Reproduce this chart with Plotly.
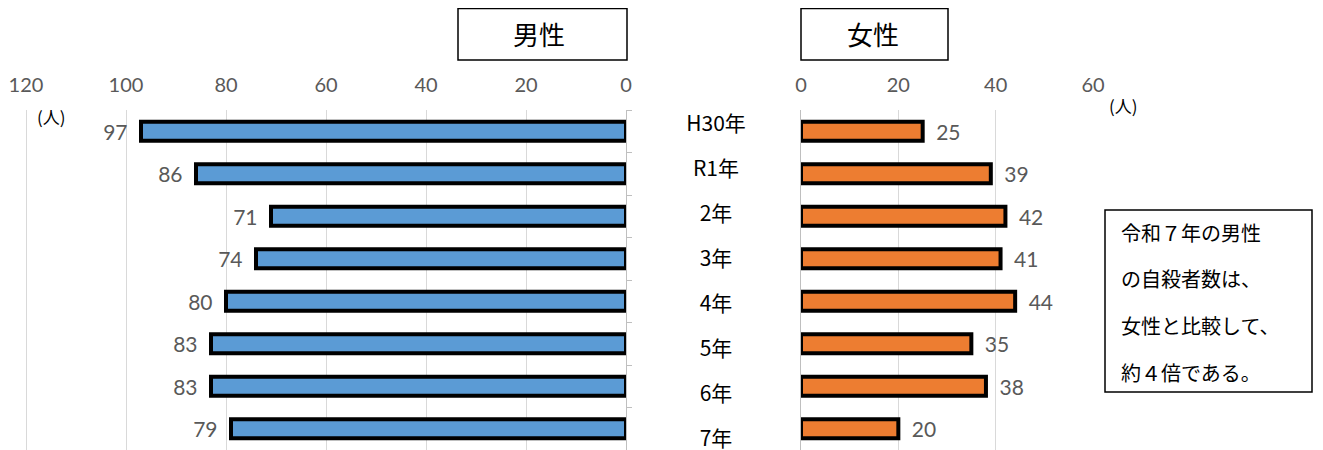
import plotly.graph_objects as go

# The page body adds an 8px margin, so the figure is drawn 8px right and down.
OX, OY = 8, 8
W, H = 1323 - OX, 450 - OY

years = ["H30年", "R1年", "2年", "3年", "4年", "5年", "6年", "7年"]
male = [97, 86, 71, 74, 80, 83, 83, 79]
female = [25, 39, 42, 41, 44, 35, 38, 20]
male_ticks = [0, 20, 40, 60, 80, 100, 120]
female_ticks = [0, 20, 40, 60]
note_lines = ["令和７年の男性", "の自殺者数は、", "女性と比較して、", "約４倍である。"]

def px(x):
    return (x - OX) / W

def py(y):
    return 1 - (y - OY) / H

NUM_FONT = "Lato, 'Noto Sans CJK JP', sans-serif"
JP_FONT = "'Noto Sans CJK JP', 'Noto Sans', sans-serif"
GRID = "#D9D9D9"
TICKC = "#595959"

fig = go.Figure()

fig.add_trace(go.Bar(
    y=years, x=male, orientation="h",
    marker=dict(color="#5B9BD5", line=dict(color="black", width=4)),
    width=0.45,
    text=[f"{v}\u2002" for v in male], textposition="outside",
    constraintext="none",
    textfont=dict(family=NUM_FONT, size=21, color=TICKC),
    cliponaxis=False,
    xaxis="x", yaxis="y", showlegend=False,
))
fig.add_trace(go.Bar(
    y=years, x=female, orientation="h",
    marker=dict(color="#ED7D31", line=dict(color="black", width=4)),
    width=0.45,
    text=[f"\u2002{v}" for v in female], textposition="outside",
    constraintext="none",
    textfont=dict(family=NUM_FONT, size=21, color=TICKC),
    cliponaxis=False,
    xaxis="x2", yaxis="y2", showlegend=False,
))
# category labels in the middle
fig.add_trace(go.Scatter(
    x=[0] * len(years), y=years, mode="text", text=years,
    textfont=dict(family=JP_FONT, size=21, color="black"),
    xaxis="x3", yaxis="y3", showlegend=False, hoverinfo="skip",
    cliponaxis=False,
))

ydom = [0, py(110)]

fig.update_layout(
    width=W, height=H,
    margin=dict(l=0, r=0, t=0, b=0, autoexpand=False),
    paper_bgcolor="white", plot_bgcolor="white",
    xaxis=dict(
        domain=[px(23), px(626)], range=[120.6, 0], side="top",
        tickvals=male_ticks, showgrid=True, gridcolor=GRID, gridwidth=1,
        zeroline=False, showline=False, ticks="",
        tickfont=dict(family=NUM_FONT, size=20, color=TICKC),
        ticklabelstandoff=13, ticklabeloverflow="allow",
        anchor="y", automargin=False,
    ),
    yaxis=dict(
        domain=ydom, autorange="reversed", side="right", anchor="x",
        showticklabels=False, showgrid=False, zeroline=False,
        showline=True, linecolor="#BFBFBF", linewidth=1,
        ticks="outside", tickson="boundaries", ticklen=5, tickcolor="#BFBFBF",
        automargin=False,
    ),
    xaxis2=dict(
        domain=[px(801), px(1094)], range=[0, 60.2], side="top",
        tickvals=female_ticks, showgrid=True, gridcolor=GRID, gridwidth=1,
        zeroline=False, showline=False, ticks="",
        tickfont=dict(family=NUM_FONT, size=20, color=TICKC),
        ticklabelstandoff=13, ticklabeloverflow="allow",
        anchor="y2", automargin=False,
    ),
    yaxis2=dict(
        domain=ydom, autorange="reversed", anchor="x2",
        showticklabels=False, showgrid=False, zeroline=False,
        showline=True, linecolor="#BFBFBF", linewidth=1, ticks="",
        automargin=False,
    ),
    xaxis3=dict(domain=[px(666), px(766)], range=[-1, 1], visible=False, anchor="y3",
                automargin=False),
    yaxis3=dict(domain=ydom, range=[7.2, -0.356], visible=False, anchor="x3",
                type="category", automargin=False),
)

shapes = [
    dict(type="rect", xref="paper", yref="paper",
         x0=px(458), x1=px(627), y0=py(8.5), y1=py(60),
         line=dict(color="black", width=1.5), fillcolor="white"),
    dict(type="rect", xref="paper", yref="paper",
         x0=px(801), x1=px(948), y0=py(8.5), y1=py(60),
         line=dict(color="black", width=1.5), fillcolor="white"),
    dict(type="rect", xref="paper", yref="paper",
         x0=px(1105), x1=px(1312), y0=py(210), y1=py(392),
         line=dict(color="black", width=1.5), fillcolor="white"),
]
fig.update_layout(shapes=shapes)

annotations = []
for text, cx in [("男性", 539), ("女性", 873)]:
    annotations.append(dict(text=text, x=px(cx), y=py(33), xref="paper", yref="paper",
                            showarrow=False, xanchor="center", yanchor="middle",
                            font=dict(family=JP_FONT, size=26, color="black")))
annotations.append(dict(text="(人)", x=px(51), y=py(116), xref="paper", yref="paper",
                        showarrow=False, xanchor="center", yanchor="middle",
                        font=dict(family=JP_FONT, size=17, color="black")))
annotations.append(dict(text="(人)", x=px(1123), y=py(105), xref="paper", yref="paper",
                        showarrow=False, xanchor="center", yanchor="middle",
                        font=dict(family=JP_FONT, size=17, color="black")))
for i, line in enumerate(note_lines):
    annotations.append(dict(text=line, x=px(1119), y=py(232 + 46.7 * i), xref="paper", yref="paper",
                            showarrow=False, xanchor="left", yanchor="middle",
                            font=dict(family=JP_FONT, size=20, color="black")))
fig.update_layout(annotations=annotations)

fig.write_html("out.html")
